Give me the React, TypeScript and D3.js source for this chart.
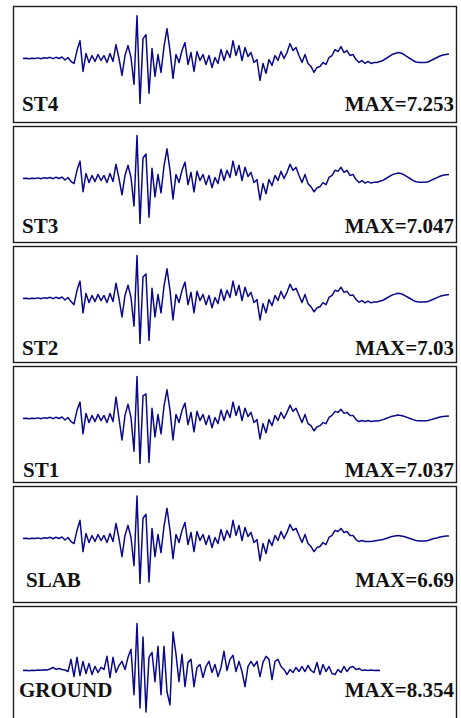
import React, { useRef, useEffect } from 'react';
import * as d3 from 'd3';

// record names and peak accelerations (as printed)
const labels = ['ST4', 'ST3', 'ST2', 'ST1', 'SLAB', 'GROUND'];
const maxValues = ['7.253', '7.047', '7.03', '7.037', '6.69', '8.354'];

// acceleration histories, one sample per time step
const st4 = [
  0, 0.05, -0.03, 0.05, 0, 0.1, -0.05, 0.13, 0.03, 0.19,
  -0.03, 0.19, 0, 0.24, -0.24, 0.16, -0.48, -0.8, 1.28, 2.88,
  -2.08, 0.8, -0.64, 0.48, -0.48, 0.64, -0.32, 0.48, -0.64, 0.8,
  -0.48, 2.24, 0, -2.72, 0.48, 2.08, 0.16, -4.16, 6.88, -7.253,
  3.2, 3.84, -5.6, 1.6, -2.88, 0.64, -2.24, 1.92, 4.8, 1.28,
  -3.2, 0.64, -0.64, 1.28, 2.56, -0.96, 0.96, -2.08, 1.12, -0.32,
  0.64, -0.96, 0.48, -1.44, 0.16, -0.8, 1.44, -0.32, 1.28, 0.16,
  2.88, 0.48, 2.08, -0.32, 1.76, 0.32, 0.96, -0.64, -0.16, -3.52,
  -0.8, -2.4, -0.16, -1.12, 0.48, -0.32, 1.12, 0, 0.96, 2.4,
  1.28, 1.76, 0.48, -0.64, 0.64, -0.8, -1.28, -2.24, -1.44, -1.28,
  -0.64, -0.96, 0.16, 0.48, 1.44, 1.12, 1.92, 0.96, 1.28, 0.48,
  0.64, -0.16, -0.64, -0.32, -0.8, -0.48, -0.8, -0.64, -0.64, -0.48,
  -0.32, 0, 0.32, 0.64, 0.8, 0.96, 0.88, 0.64, 0.32, 0,
  -0.32, -0.56, -0.64, -0.64, -0.64, -0.56, -0.32, -0.08, 0.16, 0.4,
  0.56, 0.64, 0.72
];

const st3 = [
  0, 0.05, -0.03, 0.05, 0, 0.1, -0.05, 0.13, 0.03, 0.16,
  -0.03, 0.19, 0, 0.22, -0.24, 0.16, -0.48, -0.8, 1.28, 2.72,
  -2.08, 0.8, -0.64, 0.48, -0.48, 0.64, -0.32, 0.48, -0.64, 0.8,
  -0.48, 2.24, 0, -2.56, 0.48, 2.08, 0.16, -4.32, 6.72, -7.047,
  3.2, 3.84, -6.08, 1.6, -2.88, 0.64, -2.24, 1.92, 4.64, 1.28,
  -3.2, 0.64, -0.64, 1.28, 2.56, -0.96, 0.96, -2.08, 1.12, -0.32,
  0.64, -0.96, 0.48, -1.44, 0.16, -0.8, 1.44, -0.32, 1.28, 0.16,
  2.72, 0.48, 2.08, -0.32, 1.76, 0.32, 0.96, -0.64, -0.16, -3.36,
  -0.8, -2.4, -0.16, -1.12, 0.48, -0.32, 1.12, 0, 0.96, 2.24,
  1.28, 1.76, 0.48, -0.64, 0.64, -0.8, -1.28, -2.08, -1.44, -1.28,
  -0.64, -0.96, 0.16, 0.48, 1.28, 1.12, 1.76, 0.96, 1.28, 0.48,
  0.64, -0.16, -0.64, -0.32, -0.72, -0.48, -0.72, -0.58, -0.58, -0.43,
  -0.29, 0, 0.29, 0.58, 0.72, 0.86, 0.8, 0.58, 0.29, 0,
  -0.29, -0.5, -0.58, -0.58, -0.58, -0.5, -0.29, -0.07, 0.14, 0.36,
  0.5, 0.58, 0.64
];

const st2 = [
  0, 0.05, -0.03, 0.05, 0, 0.1, -0.05, 0.13, 0.03, 0.19,
  -0.03, 0.19, 0, 0.24, -0.24, 0.16, -0.48, -0.96, 1.28, 2.72,
  -2.24, 0.8, -0.64, 0.48, -0.48, 0.64, -0.32, 0.48, -0.64, 0.8,
  -0.48, 2.4, 0, -2.88, 0.48, 2.08, 0.16, -4.32, 6.72, -7.03,
  3.36, 3.84, -6.56, 1.6, -2.88, 0.64, -2.24, 1.92, 4.64, 1.28,
  -3.36, 0.64, -0.64, 1.28, 2.56, -0.96, 0.96, -2.24, 1.12, -0.32,
  0.64, -0.96, 0.48, -1.44, 0.16, -0.8, 1.44, -0.32, 1.28, 0.16,
  2.72, 0.48, 2.08, -0.32, 1.76, 0.32, 0.96, -0.64, -0.16, -3.36,
  -0.8, -2.24, -0.16, -1.12, 0.48, -0.32, 1.12, 0, 0.96, 2.24,
  1.28, 1.6, 0.48, -0.64, 0.64, -0.8, -1.28, -2.08, -1.44, -1.28,
  -0.64, -0.96, 0.16, 0.48, 1.28, 1.12, 1.76, 0.96, 1.12, 0.48,
  0.56, -0.16, -0.56, -0.32, -0.68, -0.4, -0.68, -0.54, -0.54, -0.4,
  -0.27, 0, 0.27, 0.54, 0.68, 0.82, 0.75, 0.54, 0.27, 0,
  -0.27, -0.48, -0.54, -0.54, -0.54, -0.48, -0.27, -0.07, 0.14, 0.34,
  0.48, 0.54, 0.61
];

const st1 = [
  0, 0.05, -0.03, 0.05, 0, 0.1, -0.05, 0.13, 0.03, 0.19,
  -0.03, 0.19, 0, 0.24, -0.24, 0.16, -0.48, -0.8, 1.28, 2.56,
  -2.4, 0.8, -0.64, 0.48, -0.48, 0.64, -0.32, 0.48, -0.64, 0.8,
  -0.48, 3.36, 0, -3.36, 0.48, 2.24, 0.16, -5.12, 6.56, -7.037,
  3.52, 3.84, -6.88, 1.6, -2.88, 0.64, -2.4, 1.92, 4.48, 1.28,
  -3.36, 0.64, -0.64, 1.28, 2.4, -0.96, 0.96, -2.08, 1.12, -0.32,
  0.64, -0.96, 0.48, -1.44, 0.16, -0.8, 1.28, -0.32, 1.28, 0.16,
  2.56, 0.48, 1.92, -0.32, 1.6, 0.32, 0.96, -0.64, -0.16, -3.2,
  -0.8, -2.24, -0.16, -1.12, 0.48, -0.32, 0.96, 0, 0.96, 2.08,
  1.12, 1.6, 0.48, -0.64, 0.64, -0.8, -1.12, -1.92, -1.28, -1.12,
  -0.64, -0.8, 0.16, 0.48, 1.12, 0.96, 1.44, 0.8, 0.96, 0.48,
  0.48, -0.16, -0.48, -0.32, -0.48, -0.32, -0.48, -0.4, -0.4, -0.32,
  -0.18, 0, 0.18, 0.35, 0.44, 0.53, 0.48, 0.35, 0.18, 0,
  -0.18, -0.31, -0.35, -0.35, -0.35, -0.31, -0.18, -0.04, 0.09, 0.22,
  0.31, 0.35, 0.4
];

const slab = [
  0, 0.05, -0.03, 0.05, 0, 0.09, -0.05, 0.12, 0.03, 0.18,
  -0.03, 0.18, 0, 0.23, -0.23, 0.15, -0.45, -0.75, 1.2, 2.7,
  -1.95, 0.75, -0.6, 0.45, -0.45, 0.6, -0.3, 0.45, -0.6, 0.75,
  -0.45, 2.25, 0, -2.7, 0.45, 1.95, 0.15, -4.05, 6.3, -6.69,
  3.0, 3.6, -6.45, 1.5, -2.7, 0.6, -2.1, 1.8, 4.5, 1.2,
  -3.0, 0.6, -0.6, 1.2, 2.4, -0.9, 0.9, -1.95, 1.05, -0.3,
  0.6, -0.9, 0.45, -1.35, 0.15, -0.75, 1.35, -0.3, 1.2, 0.15,
  2.7, 0.45, 1.95, -0.3, 1.65, 0.3, 0.9, -0.6, -0.15, -3.3,
  -0.75, -2.25, -0.15, -1.05, 0.45, -0.3, 1.05, 0, 0.9, 2.1,
  1.2, 1.5, 0.45, -0.6, 0.6, -0.75, -1.2, -1.95, -1.35, -1.2,
  -0.6, -0.9, 0.15, 0.45, 1.2, 1.05, 1.5, 0.9, 1.05, 0.45,
  0.45, -0.15, -0.45, -0.3, -0.45, -0.45, -0.45, -0.38, -0.3, -0.23,
  -0.15, 0, 0.15, 0.3, 0.38, 0.45, 0.38, 0.3, 0.15, 0,
  -0.15, -0.3, -0.38, -0.38, -0.38, -0.3, -0.15, 0, 0.08, 0.23,
  0.3, 0.38, 0.38
];

const ground = [
  0, 0.05, -0.04, 0.05, 0, 0.09, 0.04, 0.14, 0.09, 0.27,
  0.54, 0.18, 0.36, 0.18, 0.09, -0.18, 1.98, -1.08, 2.34, -0.9,
  1.62, -0.54, 1.26, -0.72, 0.72, -0.36, 0.54, 0.18, 2.52, -1.26,
  2.34, -0.36, 0.9, 1.62, 0.18, 2.34, 3.78, -4.32, 8.354, -6.66,
  5.94, -7.38, 2.34, 3.24, -1.98, 4.32, -4.32, 4.32, -3.78, -6.12,
  6.84, 2.88, -1.98, 2.88, -2.88, 1.44, 1.98, -2.88, 0.54, 1.08,
  -1.26, 0.72, 1.62, -0.36, 1.08, -1.08, 0.54, 3.42, 0, 1.98,
  2.7, -0.18, 1.62, -0.18, -2.88, 0.72, 1.62, 0.72, 1.62, -1.08,
  1.44, 2.52, 1.98, -1.62, 1.62, 1.98, 0.72, 0.18, -0.72, 0.18,
  -0.36, 0.54, -0.18, 0.72, -0.18, 0.9, 0, -0.36, 1.44, -0.72,
  1.08, -0.18, 0.72, -0.54, -0.72, 0.18, -0.36, 0.72, -0.18, 0.54,
  0.72, 0.18, 0.36, 0, 0.09, 0, 0.09, 0, 0.05, 0
];

const records = [st4, st3, st2, st1, slab, ground];

const Seismograms = () => {
  const svgRef = useRef<SVGSVGElement>(null);

  useEffect(() => {
    const width = 461;
    const height = 718;

    // panel frames
    const panelLeft = 13.5;
    const panelRight = 456.5;
    const panelH = 116;
    const firstTop = 6.5;
    const step = 120;

    // per panel layout (baseline offset, half height of trace, label spots)
    const baseOffset = [52, 52, 52, 52, 52, 64];
    const halfAmp = [45, 45, 45, 45, 45, 47];
    const labelX = [22, 22, 22, 23, 26, 19];
    const labelY = [104, 106, 108, 110, 100, 90];
    const font = "'Liberation Serif', 'Times New Roman', Times, serif";

    const svg = d3.select(svgRef.current)
      .attr('width', width)
      .attr('height', height);

    svg.selectAll('*').remove();

    svg.append('rect')
      .attr('width', width)
      .attr('height', height)
      .attr('fill', 'white');

    // same time axis for all records
    const x = d3.scaleLinear()
      .domain([0, st4.length - 1])
      .range([23, 449]);

    records.forEach((rec, i) => {
      const top = firstTop + i * step;
      const g = svg.append('g');

      g.append('rect')
        .attr('x', panelLeft)
        .attr('y', top)
        .attr('width', panelRight - panelLeft)
        .attr('height', panelH)
        .attr('fill', 'white')
        .attr('stroke', '#1e1e1e')
        .attr('stroke-width', 1.4);

      const peak = d3.max(rec, d => Math.abs(d)) as number;
      const base = top + baseOffset[i];
      const y = d3.scaleLinear()
        .domain([-peak, peak])
        .range([base + halfAmp[i], base - halfAmp[i]]);

      const line = d3.line<number>()
        .x((d, k) => x(k))
        .y(d => y(d));

      g.append('path')
        .datum(rec)
        .attr('fill', 'none')
        .attr('stroke', '#0a0a88')
        .attr('stroke-width', 1.5)
        .attr('stroke-linejoin', 'round')
        .attr('d', line);

      g.append('text')
        .attr('x', labelX[i])
        .attr('y', top + labelY[i])
        .style('font-family', font)
        .style('font-weight', 'bold')
        .style('font-size', '21px')
        .attr('fill', '#111')
        .text(labels[i]);

      g.append('text')
        .attr('x', 454)
        .attr('y', top + labelY[i])
        .attr('text-anchor', 'end')
        .style('font-family', font)
        .style('font-weight', 'bold')
        .style('font-size', '21px')
        .attr('fill', '#111')
        .text(`MAX=${maxValues[i]}`);
    });
  }, []);

  return (
    <svg
      ref={svgRef}
      style={{ position: 'absolute', left: 0, top: 0, display: 'block' }}
    />
  );
};

export default function App() {
  return <Seismograms />;
}
